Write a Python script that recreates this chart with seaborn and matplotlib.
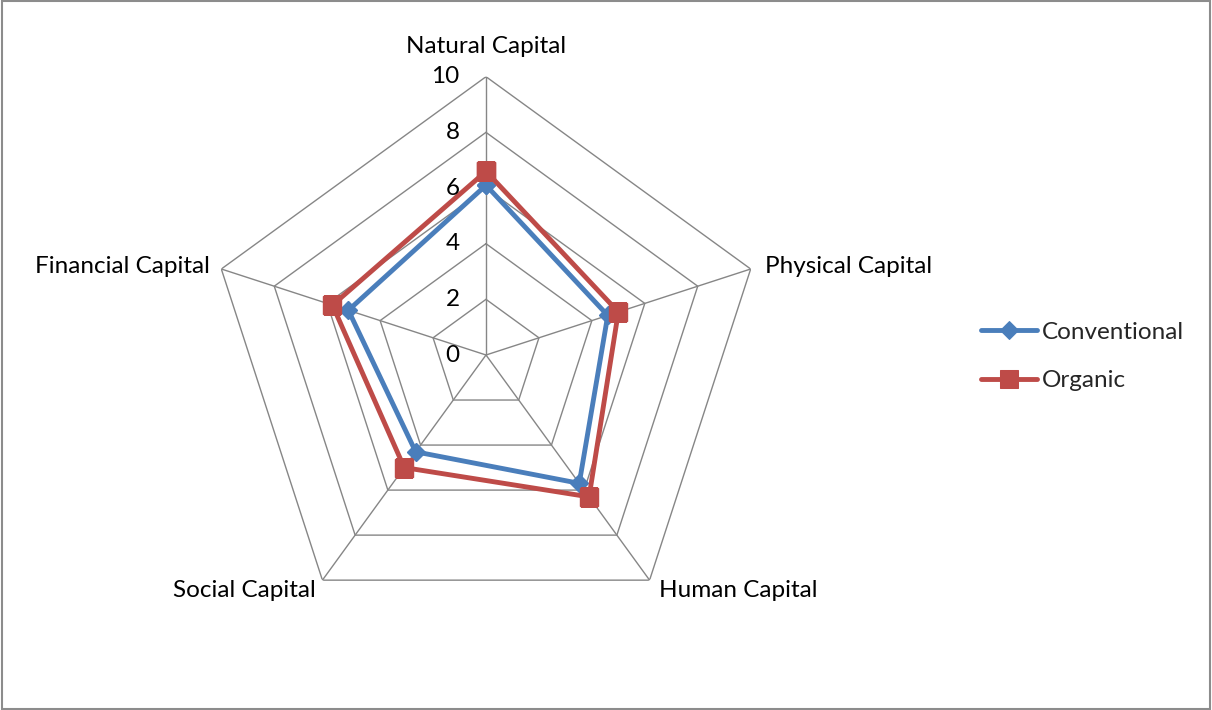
import numpy as np
import pandas as pd
import matplotlib
matplotlib.use("Agg")
import matplotlib.pyplot as plt
from matplotlib.patches import Rectangle
import seaborn as sns

# Data
categories = ["Natural Capital", "Physical Capital", "Human Capital",
              "Social Capital", "Financial Capital"]
conventional = [6.1, 4.6, 5.7, 4.3, 5.2]
organic = [6.6, 5.0, 6.3, 5.0, 5.8]
series_names = ["Conventional", "Organic"]
ring_levels = [0, 2, 4, 6, 8, 10]

colors = {"Conventional": "#4A7EBB", "Organic": "#BE4B48"}
markers = {"Conventional": "D", "Organic": "s"}
grid_color = "#868686"
FONT = "Lato"
FS = 17.5
LW = 3.5

sns.set_style("white")
plt.rcParams["font.family"] = [FONT, "DejaVu Sans"]

n = len(categories)
theta = np.arange(n) * 2 * np.pi / n
theta_closed = np.append(theta, theta[0] + 2 * np.pi)

rows = []
for name, vals in zip(series_names, [conventional, organic]):
    closed = list(vals) + [vals[0]]
    for t, v in zip(theta_closed, closed):
        rows.append({"theta": t, "value": v, "series": name})
df = pd.DataFrame(rows)

fig = plt.figure(figsize=(12.12, 7.1), dpi=100)
W, H = 1212, 710
cx, cy, R = 486, 355, 278.3
ax = fig.add_axes([(cx - R) / W, (H - cy - R) / H, 2 * R / W, 2 * R / H],
                  projection="polar")
ax.set_theta_offset(np.pi / 2)
ax.set_theta_direction(-1)
ax.set_ylim(0, 10)
ax.grid(False)
ax.spines["polar"].set_visible(False)
ax.set_xticks([])
ax.set_yticks([])
ax.patch.set_alpha(0)

# Pentagon grid and spokes
for r in ring_levels[1:]:
    ax.plot(theta_closed, [r] * len(theta_closed), color=grid_color, lw=1.0, zorder=1)
for t in theta:
    ax.plot([t, t], [0, ring_levels[-1]], color=grid_color, lw=1.0, zorder=1)

sns.lineplot(data=df, x="theta", y="value", hue="series", style="series",
             hue_order=series_names, style_order=series_names,
             palette=colors, markers=markers, dashes=False, sort=False,
             estimator=None, linewidth=LW, markersize=12.5, ax=ax, zorder=3)
for line in ax.lines:
    if line.get_marker() == "D":
        line.set_markersize(9)
    if line.get_marker() in ("D", "s"):
        line.set_markeredgecolor(line.get_color())
        line.set_markerfacecolor(line.get_color())
        line.set_markeredgewidth(1)
ax.set_xlabel("")
ax.set_ylabel("")

# Radial scale labels along the top spoke
for r in ring_levels:
    ax.annotate(str(r), xy=(theta[0], r), xytext=(-19, 0), textcoords="offset points",
                ha="right", va="center", fontsize=FS, color="black")

# Category labels
label_offsets = [(0, 21.5, "center", "center"),
                 (10, 2, "left", "center"),
                 (6.5, -7.5, "left", "center"),
                 (-5, -7.5, "right", "center"),
                 (-8, 2, "right", "center")]
for t, lab, (dx, dy, ha, va) in zip(theta, categories, label_offsets):
    ax.annotate(lab, xy=(t, 10), xytext=(dx, dy), textcoords="offset points",
                ha=ha, va=va, fontsize=FS, color="black")

sns.move_legend(ax, loc="center left", bbox_to_anchor=(981 / W, 1 - 356.5 / H),
                bbox_transform=fig.transFigure, frameon=False, title=None,
                fontsize=FS, handlelength=2.3, handletextpad=0.2,
                labelspacing=1.15, borderpad=0, borderaxespad=0)
leg = ax.get_legend()
for h in leg.legend_handles:
    h.set_linewidth(LW)
    h.set_markeredgecolor(h.get_color())
    h.set_markerfacecolor(h.get_color())
    h.set_markersize(9 if h.get_marker() == "D" else 12.5)

fig.patches.append(Rectangle((0.0015, 0.0015), 0.997, 0.997, transform=fig.transFigure,
                             fill=False, ec="#8C8C8C", lw=1.5))

fig.savefig("out.png", dpi=100, facecolor="white")
